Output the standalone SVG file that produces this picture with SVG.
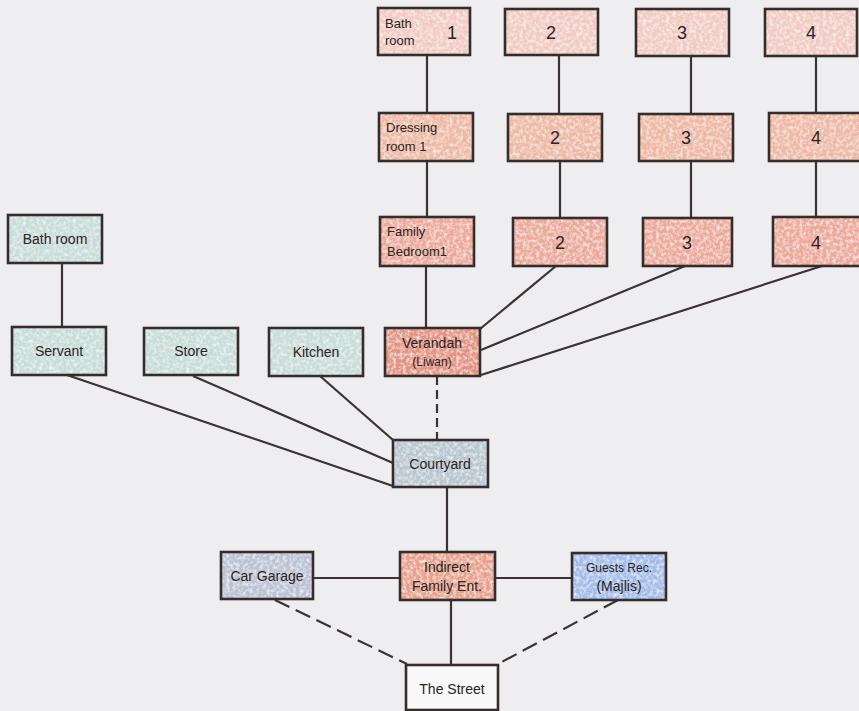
<svg xmlns="http://www.w3.org/2000/svg" width="859" height="711" viewBox="0 0 859 711">
<defs>
<filter id="tex" x="0" y="0" width="100%" height="100%">
<feTurbulence type="fractalNoise" baseFrequency="0.3" numOctaves="3" seed="4" result="n"/>
<feColorMatrix in="n" type="matrix" values="0 0 0 0 1  0 0 0 0 1  0 0 0 0 1  0 0 0 1.6 -0.65" result="w"/>
<feComposite in="w" in2="SourceGraphic" operator="in" result="wm"/>
<feMerge><feMergeNode in="SourceGraphic"/><feMergeNode in="wm"/></feMerge>
</filter>
<style>
.bg{fill:#eeedf0}
.f{filter:url(#tex)}
.b{fill:none;stroke:#352d2b;stroke-width:2.6}
.c line{stroke:#3a3331;stroke-width:2.2;fill:none}
.c .d{stroke-dasharray:9 5}
.c .d2{stroke-dasharray:16 7}
.pk1{fill:#f1cbc3}
.pk2{fill:#eeb8a3}
.pk3{fill:#eca99a}
.red{fill:#e3927f}
.gr{fill:#c8dcd8}
.cy{fill:#b8c6d0}
.gg{fill:#bcc2d3}
.ie{fill:#e8a08a}
.bl{fill:#a2bce9}
.wh{fill:#f9f9f9}
text{font-family:"Liberation Sans","DejaVu Sans",sans-serif;font-size:13px;fill:#2a2422}
.n{font-size:18px;text-anchor:middle}
.m{text-anchor:middle;font-size:14px}
.s{font-size:12px}
</style>
</defs>
<rect class="bg" x="0" y="0" width="859" height="711"/>
<g id="connectors" class="c">
<line x1="427" y1="55" x2="427" y2="113"/>
<line x1="559" y1="55" x2="559" y2="114"/>
<line x1="691" y1="56" x2="691" y2="114"/>
<line x1="816" y1="56" x2="816" y2="113"/>
<line x1="427" y1="161" x2="427" y2="217"/>
<line x1="560" y1="161" x2="560" y2="218"/>
<line x1="691" y1="161" x2="691" y2="218"/>
<line x1="816" y1="161" x2="816" y2="217"/>
<line x1="426" y1="266" x2="426" y2="328"/>
<line x1="556" y1="266" x2="480" y2="329"/>
<line x1="685" y1="266" x2="481" y2="350"/>
<line x1="822" y1="266" x2="481" y2="375"/>
<line x1="62" y1="263" x2="62" y2="327"/>
<line x1="67" y1="375" x2="393" y2="486"/>
<line x1="193" y1="376" x2="393" y2="463"/>
<line x1="320" y1="376" x2="393" y2="440"/>
<line class="d" x1="437" y1="376" x2="437" y2="440"/>
<line x1="447" y1="487" x2="447" y2="552"/>
<line x1="313" y1="578" x2="400" y2="578"/>
<line x1="495" y1="578" x2="572" y2="578"/>
<line x1="451" y1="600" x2="451" y2="665"/>
<line class="d2" x1="275" y1="600" x2="407" y2="664"/>
<line class="d2" x1="618" y1="600" x2="498" y2="664"/>
</g>
<g id="bath1"><rect class="pk1 f" x="378" y="8" width="92" height="47"/><rect class="b" x="378" y="8" width="92" height="47"/><text x="385" y="28">Bath</text><text x="385" y="45">room</text><text class="n" x="452" y="39">1</text></g>
<g id="bath2"><rect class="pk1 f" x="505" y="9" width="93" height="46"/><rect class="b" x="505" y="9" width="93" height="46"/><text class="n" x="551" y="39">2</text></g>
<g id="bath3"><rect class="pk1 f" x="636" y="9" width="93" height="47"/><rect class="b" x="636" y="9" width="93" height="47"/><text class="n" x="682" y="39">3</text></g>
<g id="bath4"><rect class="pk1 f" x="765" y="9" width="92" height="47"/><rect class="b" x="765" y="9" width="92" height="47"/><text class="n" x="811" y="39">4</text></g>
<g id="dress1"><rect class="pk2 f" x="379" y="113" width="94" height="48"/><rect class="b" x="379" y="113" width="94" height="48"/><text x="386" y="132">Dressing</text><text x="386" y="151">room 1</text></g>
<g id="dress2"><rect class="pk2 f" x="508" y="114" width="94" height="47"/><rect class="b" x="508" y="114" width="94" height="47"/><text class="n" x="555" y="144">2</text></g>
<g id="dress3"><rect class="pk2 f" x="639" y="114" width="94" height="47"/><rect class="b" x="639" y="114" width="94" height="47"/><text class="n" x="686" y="144">3</text></g>
<g id="dress4"><rect class="pk2 f" x="769" y="113" width="95" height="48"/><rect class="b" x="769" y="113" width="95" height="48"/><text class="n" x="816" y="144">4</text></g>
<g id="bed1"><rect class="pk3 f" x="380" y="217" width="94" height="49"/><rect class="b" x="380" y="217" width="94" height="49"/><text x="387" y="236">Family</text><text x="387" y="256">Bedroom1</text></g>
<g id="bed2"><rect class="pk3 f" x="513" y="218" width="94" height="48"/><rect class="b" x="513" y="218" width="94" height="48"/><text class="n" x="560" y="249">2</text></g>
<g id="bed3"><rect class="pk3 f" x="643" y="218" width="89" height="48"/><rect class="b" x="643" y="218" width="89" height="48"/><text class="n" x="687" y="249">3</text></g>
<g id="bed4"><rect class="pk3 f" x="773" y="217" width="92" height="49"/><rect class="b" x="773" y="217" width="92" height="49"/><text class="n" x="816" y="249">4</text></g>
<g id="bathL"><rect class="gr f" x="8" y="215" width="94" height="48"/><rect class="b" x="8" y="215" width="94" height="48"/><text class="m" x="55" y="244">Bath room</text></g>
<g id="servant"><rect class="gr f" x="12" y="327" width="94" height="48"/><rect class="b" x="12" y="327" width="94" height="48"/><text class="m" x="59" y="356">Servant</text></g>
<g id="store"><rect class="gr f" x="144" y="328" width="94" height="47"/><rect class="b" x="144" y="328" width="94" height="47"/><text class="m" x="191" y="356">Store</text></g>
<g id="kitchen"><rect class="gr f" x="269" y="328" width="94" height="48"/><rect class="b" x="269" y="328" width="94" height="48"/><text class="m" x="316" y="357">Kitchen</text></g>
<g id="verandah"><rect class="red f" x="385" y="328" width="95" height="48"/><rect class="b" x="385" y="328" width="95" height="48"/><text class="m" x="432" y="348">Verandah</text><text class="m s" x="432" y="366">(Liwan)</text></g>
<g id="courtyard"><rect class="cy f" x="393" y="440" width="95" height="47"/><rect class="b" x="393" y="440" width="95" height="47"/><text class="m" x="440" y="469">Courtyard</text></g>
<g id="garage"><rect class="gg f" x="221" y="552" width="92" height="47"/><rect class="b" x="221" y="552" width="92" height="47"/><text class="m" x="267" y="581">Car Garage</text></g>
<g id="indirect"><rect class="ie f" x="400" y="552" width="95" height="48"/><rect class="b" x="400" y="552" width="95" height="48"/><text class="m" x="447" y="572">Indirect</text><text class="m" x="447" y="591">Family Ent.</text></g>
<g id="guests"><rect class="bl f" x="572" y="553" width="94" height="47"/><rect class="b" x="572" y="553" width="94" height="47"/><text class="m s" x="619" y="572">Guests Rec.</text><text class="m" x="619" y="591">(Majlis)</text></g>
<g id="street"><rect class="wh" x="406" y="665" width="92" height="45"/><rect class="b" x="406" y="665" width="92" height="45"/><text class="m" x="452" y="694">The Street</text></g>
</svg>
